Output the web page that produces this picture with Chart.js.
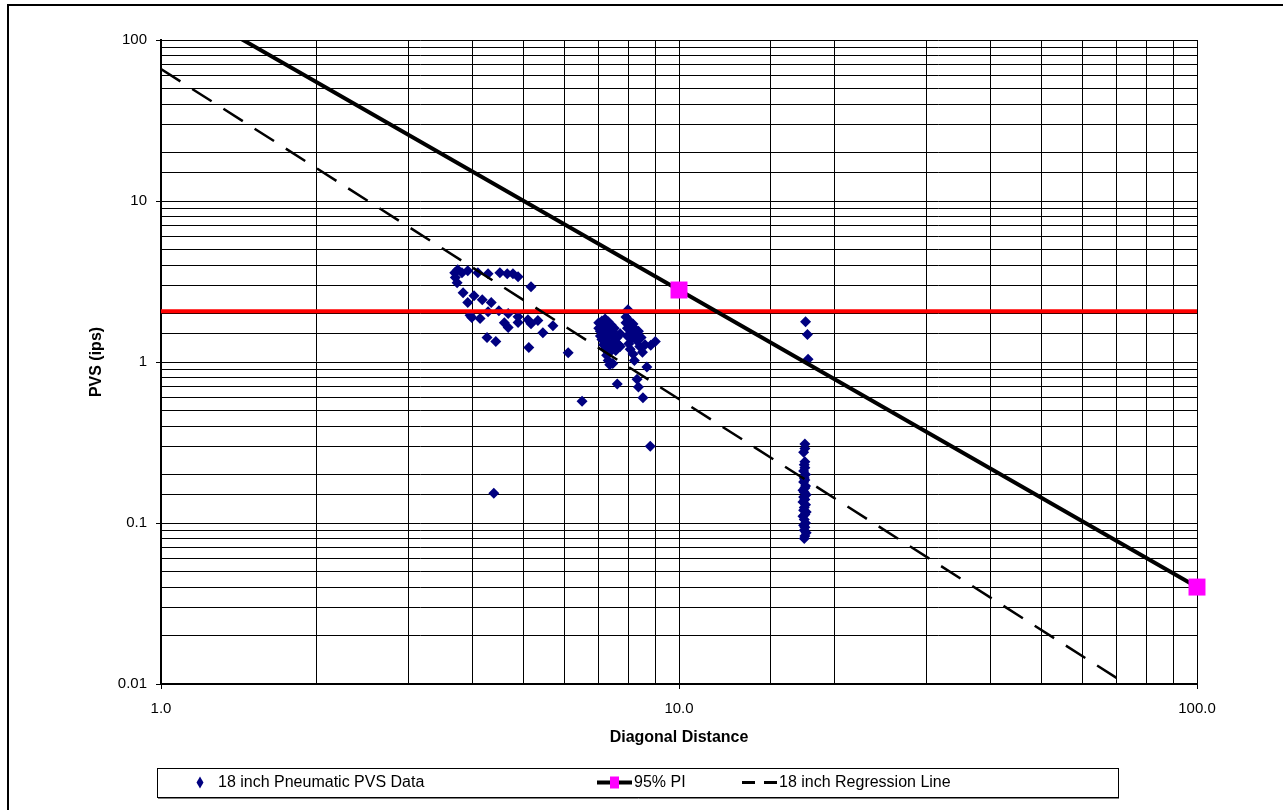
<!DOCTYPE html>
<html>
<head>
<meta charset="utf-8">
<title>PVS vs Diagonal Distance</title>
<script src="https://cdn.jsdelivr.net/npm/chart.js@4.4.0/dist/chart.umd.min.js"></script>
<style>
  html, body { margin: 0; padding: 0; background: #fff; overflow: hidden; }
  #wrap { position: relative; width: 1283px; height: 810px; }
  #frame { position: absolute; left: 7px; top: 4px; width: 1400px; height: 900px;
           border-left: 2px solid #000; border-top: 2px solid #000; }
  canvas { position: absolute; left: 0; top: 0; }
</style>
</head>
<body>
<div id="wrap">
  <div id="frame"></div>
  <canvas id="chart" width="1283" height="810"></canvas>
</div>
<script>
// Measured peak vibration (18 inch pneumatic) against diagonal distance
const pvsDistance = [
  3.69, 3.74, 3.81, 3.91, 3.73, 3.70, 4.09, 4.28, 4.51, 4.66, 4.78, 4.89, 5.18,
  3.83, 4.02, 3.91, 4.17, 4.34, 4.28, 4.49, 4.68, 4.89, 3.98, 4.13, 5.11, 5.34,
  5.18, 4.89, 4.68, 5.71, 5.46, 4.26, 4.43, 5.13, 4.39, 6.50, 6.11, 3.95, 4.60,
  7.00, 7.00, 7.05, 7.05, 7.10, 7.10, 7.10, 7.15, 7.15, 7.20, 7.20, 7.20, 7.20,
  7.25, 7.25, 7.30, 7.30, 7.30, 7.30, 7.35, 7.35, 7.40, 7.40, 7.40, 7.45, 7.45,
  7.50, 7.50, 7.55, 7.60, 7.60, 7.65, 7.70, 7.70,
  7.97, 7.90, 7.90, 7.95, 7.95, 8.00, 8.00, 8.05, 8.05, 8.10, 8.10, 8.15, 8.15,
  8.20, 8.20, 8.25, 8.30, 8.30, 8.35, 8.35, 8.40, 8.45, 8.50, 8.52, 8.60, 8.67,
  8.82, 9.00, 8.80,
  17.55, 17.70, 17.75,
  17.50, 17.50, 17.40, 17.50, 17.45, 17.50, 17.40, 17.55, 17.45, 17.50, 17.40,
  17.55, 17.50, 17.35, 17.45, 17.60, 17.40, 17.50, 17.35, 17.55, 17.45, 17.40,
  17.60, 17.50, 17.35, 17.45, 17.55, 17.40, 17.50, 17.45, 17.60, 17.50, 17.45
];
const pvsValues = [
  3.58, 3.74, 3.58, 3.69, 3.11, 3.35, 3.58, 3.53, 3.58, 3.53, 3.53, 3.38, 2.93,
  2.69, 2.58, 2.34, 2.44, 2.34, 2.05, 2.08, 2.00, 1.91, 1.89, 1.86, 1.83, 1.81,
  1.73, 1.76, 1.64, 1.68, 1.52, 1.42, 1.34, 1.23, 0.153, 0.57, 1.14, 1.95, 1.75,
  1.62, 1.75, 1.55, 1.45, 1.80, 1.68, 1.38, 1.28, 1.62, 1.85, 1.72, 1.50, 1.20,
  1.10, 1.40, 1.78, 1.60, 1.32, 1.02, 0.96, 1.15, 1.70, 1.48, 1.25, 1.55, 0.98,
  1.35, 1.62, 1.18, 1.42, 0.73, 1.28, 1.25, 1.50,
  2.11, 1.90, 1.75, 1.62, 1.45, 1.82, 1.30, 1.68, 1.20, 1.55, 1.40, 1.72, 1.12,
  1.62, 1.02, 1.48, 1.35, 0.78, 1.55, 0.70, 1.25, 1.42, 1.15, 0.60, 1.28, 0.93,
  1.27, 1.34, 0.30,
  1.78, 1.48, 1.04,
  0.31, 0.29, 0.275, 0.24, 0.23, 0.22, 0.21, 0.20, 0.19, 0.185, 0.18,
  0.17, 0.165, 0.16, 0.155, 0.15, 0.145, 0.14, 0.135, 0.13, 0.125, 0.12,
  0.117, 0.113, 0.11, 0.105, 0.10, 0.097, 0.094, 0.09, 0.087, 0.083, 0.08
];

// 95% prediction interval line
const piDistance = [1, 10, 100];
const piValues = [196, 2.8, 0.04];

// 18 inch regression line
const regDistance = [1, 100];
const regValues = [66, 0.00524];

// Horizontal limit line
const limitDistance = [1, 100];
const limitValues = [2.07, 2.07];

// Axis tick labels
const xTickValues = [1, 10, 100];
const xTickLabels = ['1.0', '10.0', '100.0'];
const yTickValues = [0.01, 0.1, 1, 10, 100];
const yTickLabels = ['0.01', '0.1', '1', '10', '100'];

const FONT = '"Liberation Sans", Arial, sans-serif';

const toPoints = (xs, ys) => xs.map((x, i) => ({ x: x, y: ys[i] }));

function labelFor(value, values, labels) {
  for (let i = 0; i < values.length; i++) {
    if (Math.abs(Math.log10(value) - Math.log10(values[i])) < 1e-6) return labels[i];
  }
  return '';
}
function isDecade(value) {
  const l = Math.log10(value);
  return Math.abs(l - Math.round(l)) < 1e-6;
}

// Framed legend drawn below the plot
const boxLegend = {
  id: 'boxLegend',
  afterDraw(chart) {
    const ctx = chart.ctx;
    const left = 157, top = 768, width = 961, height = 29;
    const cy = top + height / 2;
    ctx.save();
    ctx.fillStyle = '#fff';
    ctx.fillRect(left, top, width, height);
    ctx.strokeStyle = '#000';
    ctx.lineWidth = 1;
    ctx.strokeRect(left + 0.5, top + 0.5, width, height);
    ctx.strokeStyle = '#808080';
    ctx.beginPath();
    ctx.moveTo(left + 1, top + height + 1.5);
    ctx.lineTo(left + width + 1, top + height + 1.5);
    ctx.stroke();

    ctx.font = '16px ' + FONT;
    ctx.fillStyle = '#000';
    ctx.textBaseline = 'middle';
    ctx.textAlign = 'left';

    const ds = chart.data.datasets;

    // scatter marker
    ctx.fillStyle = ds[0].backgroundColor;
    ctx.beginPath();
    ctx.moveTo(200, cy - 6);
    ctx.lineTo(203.5, cy);
    ctx.lineTo(200, cy + 6);
    ctx.lineTo(196.5, cy);
    ctx.closePath();
    ctx.fill();
    ctx.fillStyle = '#000';
    ctx.fillText(ds[0].label, 218, cy);

    // prediction interval sample
    ctx.strokeStyle = ds[1].borderColor;
    ctx.lineWidth = 4;
    ctx.beginPath();
    ctx.moveTo(597, cy);
    ctx.lineTo(632, cy);
    ctx.stroke();
    ctx.fillStyle = ds[1].pointBackgroundColor;
    ctx.fillRect(610, cy - 6, 9, 12);
    ctx.fillStyle = '#000';
    ctx.fillText(ds[1].label, 634, cy);

    // regression sample
    ctx.strokeStyle = ds[2].borderColor;
    ctx.lineWidth = 3;
    ctx.beginPath();
    ctx.moveTo(742, cy); ctx.lineTo(755, cy);
    ctx.moveTo(764, cy); ctx.lineTo(777, cy);
    ctx.stroke();
    ctx.fillText(ds[2].label, 779, cy);
    ctx.restore();
  }
};

new Chart(document.getElementById('chart'), {
  type: 'scatter',
  data: {
    datasets: [
      {
        label: '18 inch Pneumatic PVS Data',
        data: toPoints(pvsDistance, pvsValues),
        pointStyle: 'rectRot',
        pointRadius: 5.5,
        borderWidth: 0,
        backgroundColor: '#000080',
        borderColor: '#000080',
        order: 4
      },
      {
        label: '95% PI',
        data: toPoints(piDistance, piValues),
        showLine: true,
        borderColor: '#000',
        borderWidth: 4,
        pointStyle: 'rect',
        pointRadius: 12,
        pointBorderWidth: 0,
        pointBackgroundColor: '#FF00FF',
        pointBorderColor: '#FF00FF',
        clip: { left: 0, top: 0, right: 14, bottom: 0 },
        order: 1
      },
      {
        label: '18 inch Regression Line',
        data: toPoints(regDistance, regValues),
        showLine: true,
        borderColor: '#000',
        borderWidth: 2.5,
        borderDash: [23, 14],
        pointRadius: 0,
        order: 2
      },
      {
        label: 'Limit',
        data: toPoints(limitDistance, limitValues),
        showLine: true,
        borderColor: '#FF0000',
        borderWidth: 4,
        pointRadius: 0,
        order: 3
      }
    ]
  },
  options: {
    responsive: false,
    animation: false,
    events: [],
    layout: { padding: { left: 0, top: 40, right: 86, bottom: 60 } },
    plugins: {
      legend: { display: false },
      tooltip: { enabled: false }
    },
    scales: {
      x: {
        type: 'logarithmic',
        min: 1,
        max: 100,
        afterFit(scale) { scale.height = 66; },
        border: { display: true, color: '#000', width: 2 },
        grid: {
          color: '#000',
          lineWidth: 1,
          drawTicks: true,
          tickLength: 5,
          tickColor: (c) => (c.tick && isDecade(c.tick.value) ? '#000' : 'rgba(0,0,0,0)')
        },
        ticks: {
          autoSkip: false,
          maxRotation: 0,
          padding: 11,
          color: '#000',
          font: { family: FONT, size: 15 },
          callback: (v) => labelFor(v, xTickValues, xTickLabels)
        },
        title: {
          display: true,
          text: 'Diagonal Distance',
          color: '#000',
          font: { family: FONT, size: 16, weight: 'bold' },
          padding: { top: 0, bottom: 3 }
        }
      },
      y: {
        type: 'logarithmic',
        min: 0.01,
        max: 100,
        afterFit(scale) { scale.width = 161; },
        border: { display: true, color: '#000', width: 2 },
        grid: {
          color: '#000',
          lineWidth: 1,
          drawTicks: true,
          tickLength: 5,
          tickColor: (c) => (c.tick && isDecade(c.tick.value) ? '#000' : 'rgba(0,0,0,0)')
        },
        ticks: {
          autoSkip: false,
          padding: 9,
          color: '#000',
          font: { family: FONT, size: 15 },
          callback: (v) => labelFor(v, yTickValues, yTickLabels)
        },
        title: {
          display: true,
          text: 'PVS (ips)',
          color: '#000',
          font: { family: FONT, size: 16, weight: 'bold' },
          padding: { top: 87, bottom: 0 }
        }
      }
    }
  },
  plugins: [boxLegend]
});
</script>
</body>
</html>
